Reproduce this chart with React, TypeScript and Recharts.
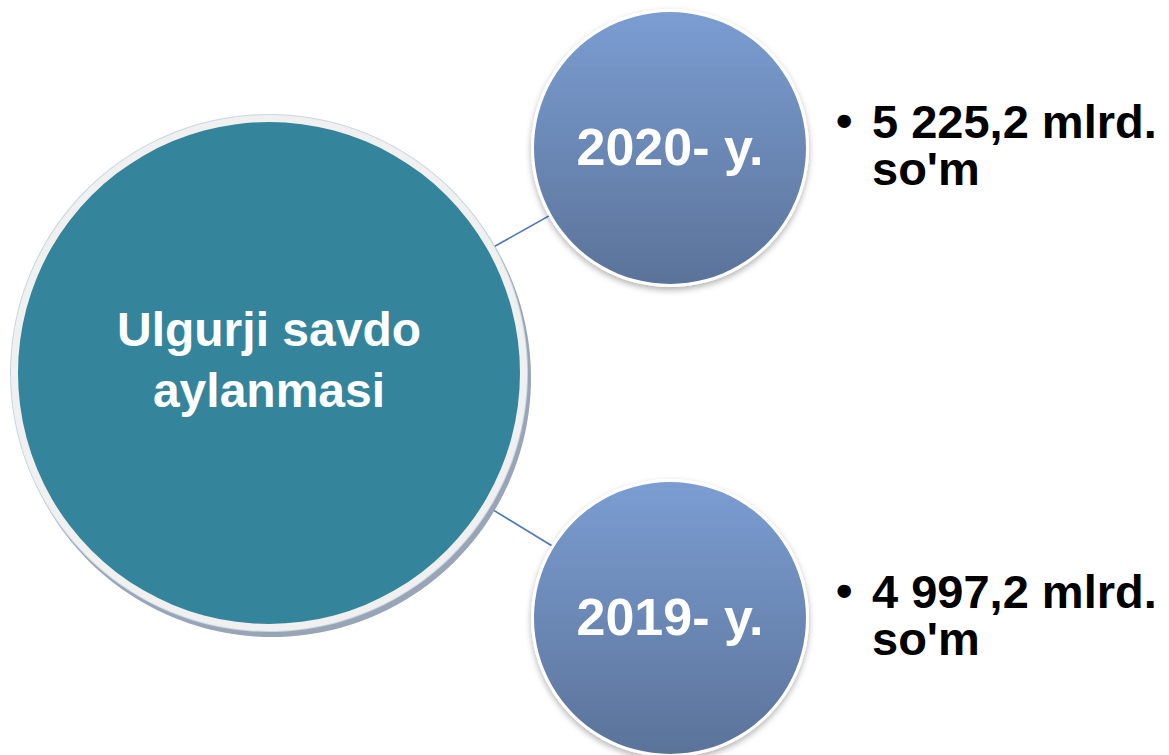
import { PieChart, Pie, Cell, Customized } from "recharts"

// diagram content
const centerLines = ["Ulgurji savdo", "aylanmasi"]
const years = ["2020- y.", "2019- y."]
const turnover = [5225.2, 4997.2]
const turnoverLines = [
  ["5 225,2 mlrd.", "so'm"],
  ["4 997,2 mlrd.", "so'm"],
]

// layout
const W = 1169
const H = 755
const MAIN = { cx: 269, cy: 373, r: 251 }
const YEAR_CX = 670
const YEAR_CY = [148, 618]
const YEAR_R = 136
const FONT = "'Liberation Sans', Arial, Helvetica, sans-serif"

const mainData = [{ name: centerLines.join(" "), value: turnover[0] + turnover[1] }]
const yearData = years.map((y, i) => [{ name: y, value: turnover[i], lines: turnoverLines[i] }])

const renderMainLabel = (props: any) => {
  const { cx, cy } = props
  return (
    <text x={cx} y={cy - 27} textAnchor="middle" fill="#fff" fontFamily={FONT} fontWeight="bold" fontSize={48}>
      <tspan x={cx} y={cy - 27}>{centerLines[0]}</tspan>
      <tspan x={cx} y={cy + 34}>{centerLines[1]}</tspan>
    </text>
  )
}

const renderYearLabel = (props: any) => {
  const { cx, cy, outerRadius, name, index } = props
  const lines = props.lines || props.payload?.lines || []
  const bx = cx + outerRadius + 38
  return (
    <g key={index}>
      <text x={cx} y={cy + 17} textAnchor="middle" fill="#fff" fontFamily={FONT} fontWeight="bold" fontSize={52}>
        {name}
      </text>
      <text x={bx - 8} y={cy - 10} textAnchor="start" fill="#000" fontFamily={FONT} fontWeight="bold" fontSize={47}>
        <tspan x={bx - 8} y={cy - 11}>•</tspan>
        <tspan x={bx + 28} y={cy - 10}>{lines[0]}</tspan>
        <tspan x={bx + 28} y={cy + 37}>{lines[1]}</tspan>
      </text>
    </g>
  )
}

const Connectors = () => (
  <g>
    {YEAR_CY.map((cy, i) => (
      <line key={i} x1={MAIN.cx} y1={MAIN.cy} x2={YEAR_CX} y2={cy} stroke="#4f79b3" strokeWidth={1.6} />
    ))}
  </g>
)

export default function App() {
  return (
    <div style={{ width: W, height: H, background: "#fff" }}>
      <style>{"body{margin:0}"}</style>
      <PieChart width={W} height={H} margin={{ top: 0, right: 0, bottom: 0, left: 0 }}>
        <defs>
          <linearGradient id="yearFill" x1="0" y1="0" x2="0" y2="1">
            <stop offset="0%" stopColor="#7b9dd2" />
            <stop offset="100%" stopColor="#5b7399" />
          </linearGradient>
          <filter id="softShadow" x="-20%" y="-20%" width="140%" height="140%">
            <feDropShadow dx="0" dy="3" stdDeviation="3" floodColor="#000" floodOpacity="0.3" />
          </filter>
        </defs>

        <Customized component={Connectors} />

        {/* main circle: shadow, light rim, teal fill */}
        <Pie data={mainData} dataKey="value" cx={MAIN.cx + 3} cy={MAIN.cy + 5} outerRadius={MAIN.r + 8}
          startAngle={90} endAngle={-270} stroke="none" fill="#97a5b6" isAnimationActive={false} />
        <Pie data={mainData} dataKey="value" cx={MAIN.cx} cy={MAIN.cy} outerRadius={MAIN.r + 8}
          startAngle={90} endAngle={-270} stroke="none" fill="#c9d6e0" isAnimationActive={false} />
        <Pie data={mainData} dataKey="value" cx={MAIN.cx} cy={MAIN.cy} outerRadius={MAIN.r + 7}
          startAngle={90} endAngle={-270} stroke="none" fill="#f0f0f0" isAnimationActive={false} />
        <Pie data={mainData} dataKey="value" cx={MAIN.cx} cy={MAIN.cy} outerRadius={MAIN.r}
          startAngle={90} endAngle={-270} stroke="none" isAnimationActive={false}
          label={renderMainLabel} labelLine={false}>
          <Cell fill="#34859c" />
        </Pie>

        {/* year circles */}
        {yearData.map((d, i) => (
          <Pie key={"rim" + i} data={d} dataKey="value" cx={YEAR_CX} cy={YEAR_CY[i]} outerRadius={YEAR_R + 3}
            startAngle={90} endAngle={-270} stroke="none" fill="#fff" style={{ filter: "url(#softShadow)" }}
            isAnimationActive={false} />
        ))}
        {yearData.map((d, i) => (
          <Pie key={"yr" + i} data={d} dataKey="value" cx={YEAR_CX} cy={YEAR_CY[i]} outerRadius={YEAR_R}
            startAngle={90} endAngle={-270} stroke="none" fill="url(#yearFill)"
            label={renderYearLabel} labelLine={false} isAnimationActive={false} />
        ))}
      </PieChart>
    </div>
  )
}
